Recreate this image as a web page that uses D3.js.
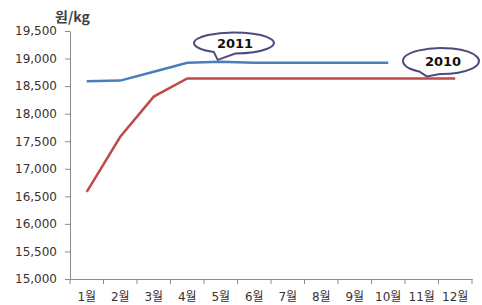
<!DOCTYPE html>
<html>
<head>
<meta charset="utf-8">
<script src="https://cdn.jsdelivr.net/npm/d3@7"></script>
<style>
    body { margin: 0; background: #fff; }
    svg { display: block; }
    .tick text { font-family: "DejaVu Sans", "Noto Sans CJK KR", sans-serif; font-size: 12px; fill: #3a3030; }
</style>
</head>
<body>
<svg id="chart" width="482" height="305"></svg>
<script>
// Data

const months = ["1월", "2월", "3월", "4월", "5월", "6월", "7월", "8월", "9월", "10월", "11월", "12월"];
const yTicks = [15000, 15500, 16000, 16500, 17000, 17500, 18000, 18500, 19000, 19500];
const price2011 = [18590, 18600, 18760, 18925, 18940, 18925, 18925, 18925, 18925, 18925];
const price2010 = [16580, 17580, 18310, 18640, 18640, 18640, 18640, 18640, 18640, 18640, 18640, 18640];

const svg = d3.select("#chart");

const x = d3.scaleBand()
    .domain(months)
    .range([70, 472]);

const y = d3.scaleLinear()
    .domain([15000, 19500])
    .range([279, 31]);

const axisColor = "#8c8c8c";

// Y axis

const yAxis = svg.append("g")
    .attr("transform", "translate(70,0)")
    .call(d3.axisLeft(y)
        .tickValues(yTicks)
        .tickFormat(d3.format(","))
        .tickSize(5)
        .tickSizeOuter(0)
        .tickPadding(8));

yAxis.selectAll("line, path").attr("stroke", axisColor);

// X axis: labels centered on bands, ticks at band edges

const xAxis = svg.append("g")
    .attr("transform", "translate(0,279)")
    .call(d3.axisBottom(x)
        .tickSize(0)
        .tickSizeOuter(0)
        .tickPadding(13));

xAxis.select("path").attr("stroke", axisColor);

const edges = months.map(m => x(m)).concat([x.range()[1]]);

xAxis.selectAll(".edge")
    .data(edges)
    .join("line")
    .attr("class", "edge")
    .attr("x1", d => d).attr("x2", d => d)
    .attr("y1", 0).attr("y2", 5)
    .attr("stroke", axisColor);

// Unit label

svg.append("text")
    .attr("x", 55)
    .attr("y", 22)
    .attr("font-family", "'Noto Sans CJK KR', 'DejaVu Sans', sans-serif")
    .attr("font-size", 14)
    .attr("font-weight", "bold")
    .attr("fill", "#404040")
    .text("원/kg");

// Lines

const line = d3.line()
    .x((d, i) => x(months[i]) + x.bandwidth() / 2)
    .y(d => y(d));

svg.append("path")
    .attr("d", line(price2010))
    .attr("fill", "none")
    .attr("stroke", "#be4b48")
    .attr("stroke-width", 2.5);

svg.append("path")
    .attr("d", line(price2011))
    .attr("fill", "none")
    .attr("stroke", "#4a7ebb")
    .attr("stroke-width", 2.5);

// Oval callouts

function callout(cx, cy, rx, ry, tx, ty, label, textDx) {
    const t = Math.atan2((ty - cy) / ry, (tx - cx) / rx);
    const g = 0.28;
    const p = a => [cx + rx * Math.cos(a), cy + ry * Math.sin(a)];
    const a0 = p(t + g), a1 = p(t - g);

    svg.append("path")
        .attr("d", `M${a0}A${rx},${ry} 0 1 1 ${a1}L${tx},${ty}Z`)
        .attr("fill", "#fff")
        .attr("stroke", "#4f4a80")
        .attr("stroke-width", 2);

    svg.append("text")
        .attr("x", cx + textDx)
        .attr("y", cy + 5)
        .attr("text-anchor", "middle")
        .attr("font-family", "'DejaVu Sans', sans-serif")
        .attr("font-size", 13)
        .attr("font-weight", "bold")
        .attr("fill", "#111")
        .text(label);
}

callout(234, 43, 40, 10.5, x("5월") + x.bandwidth() / 2 - 3, y(price2011[4]) - 2, "2011", 1);
callout(441, 61, 38, 13, x("11월") + x.bandwidth() / 2 + 5, y(price2010[10]) - 2, "2010", 2);
</script>
</body>
</html>
